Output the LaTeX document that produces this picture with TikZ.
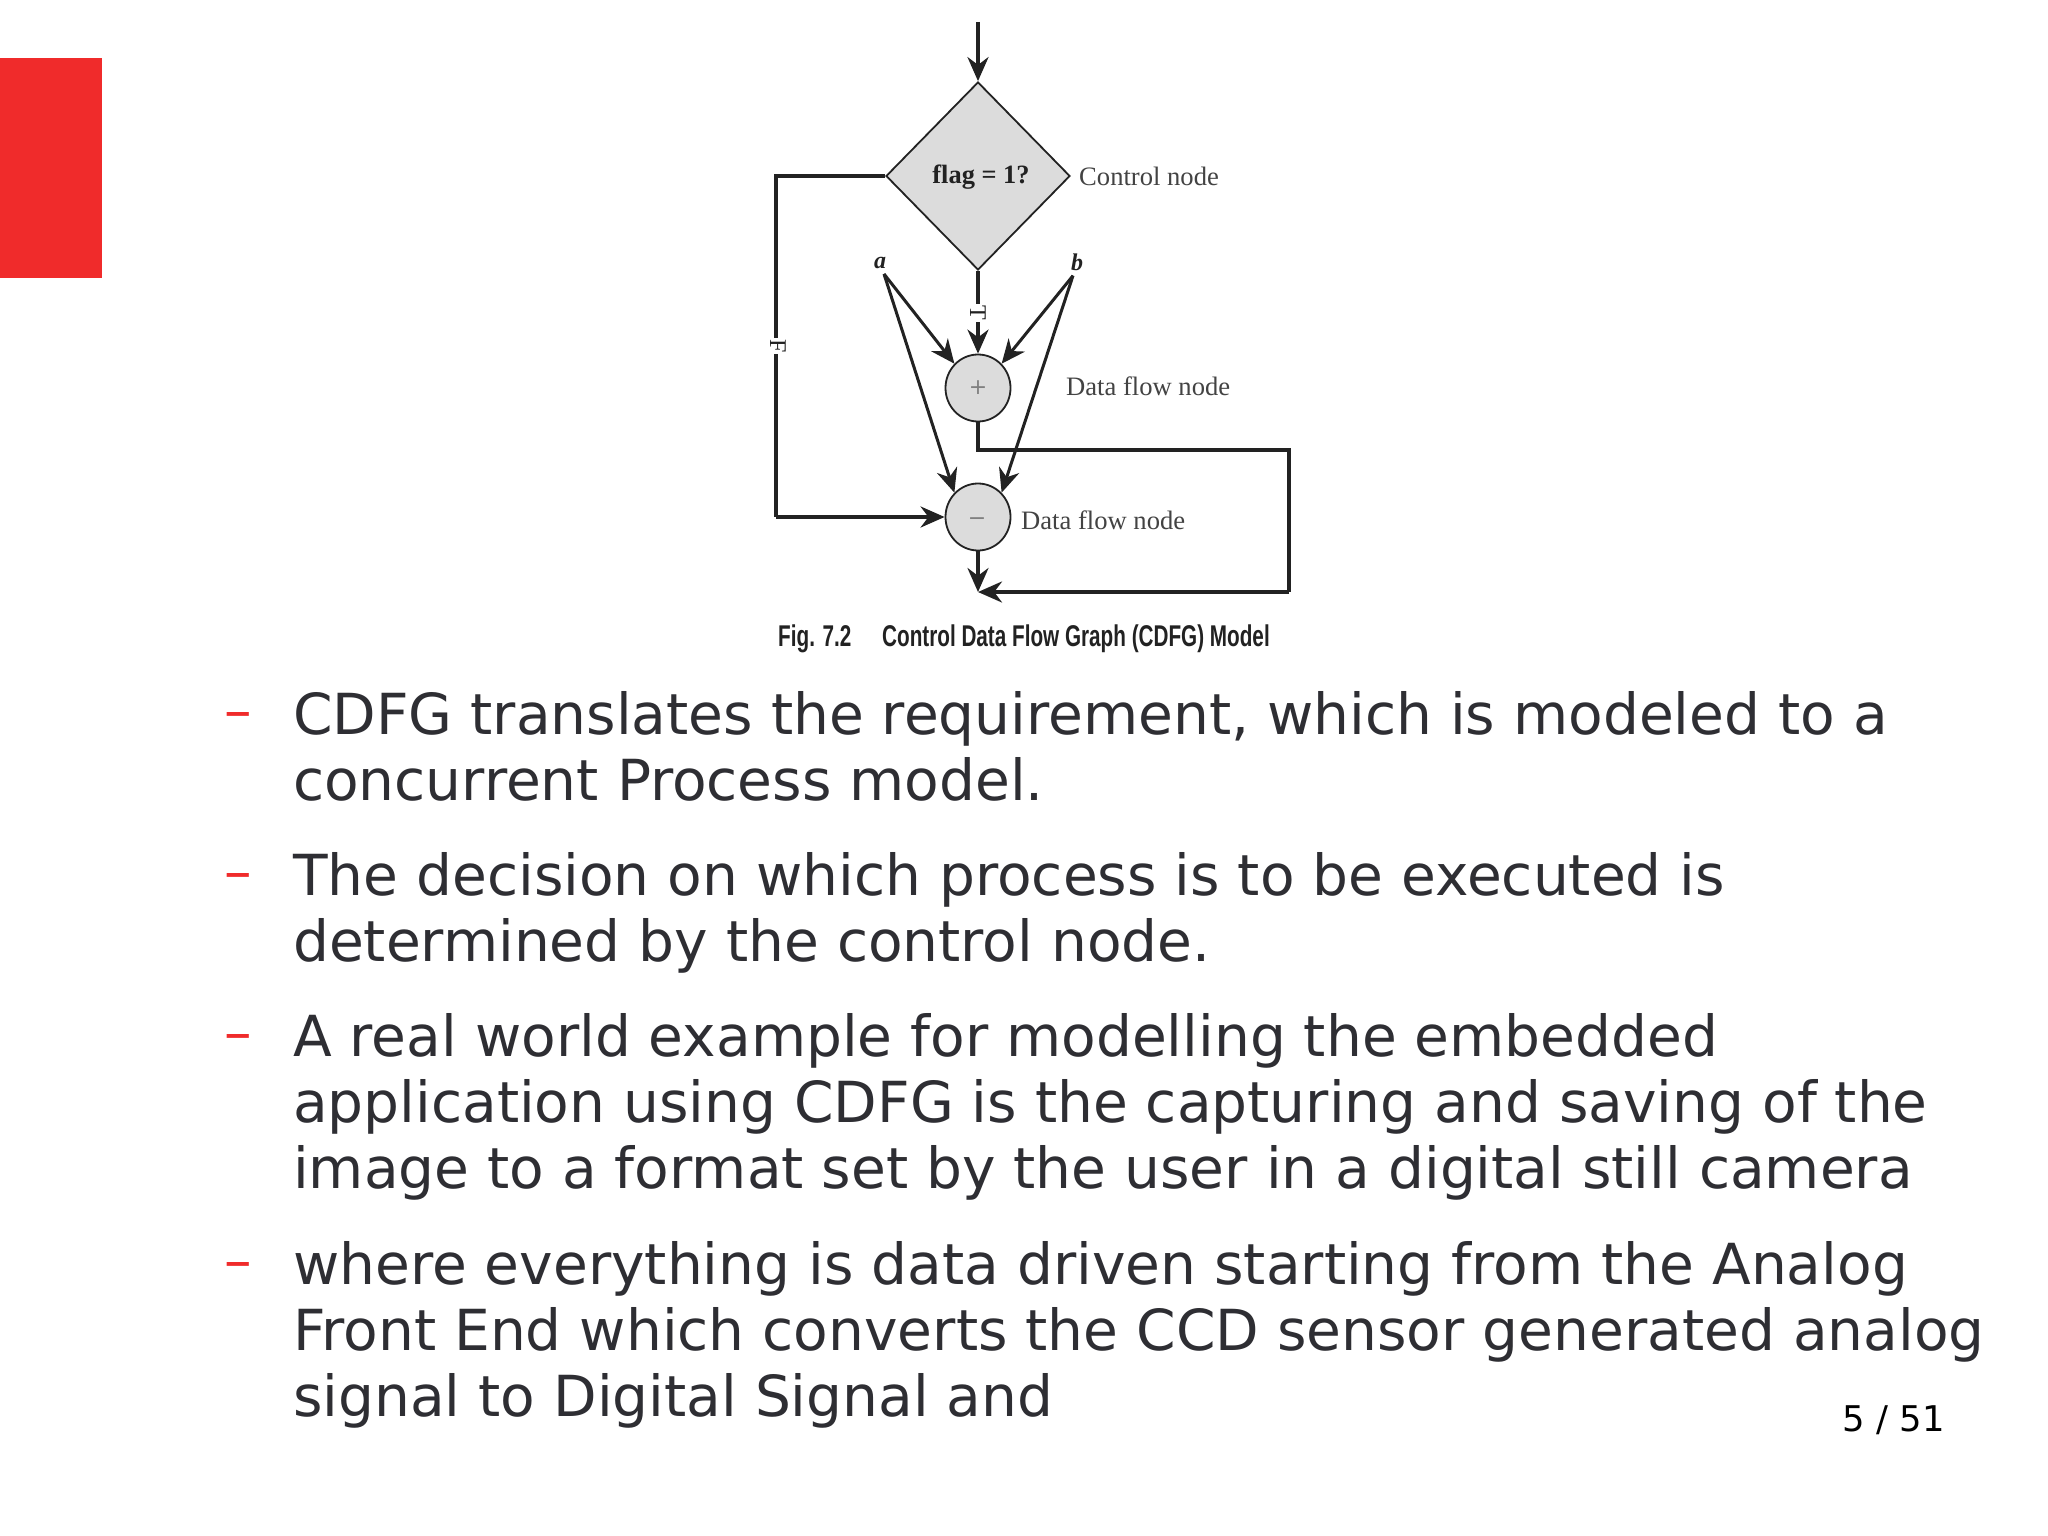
\documentclass[tikz,border=0pt]{standalone}
\usepackage{fontspec}
\usetikzlibrary{shapes.geometric,arrows.meta,positioning}
\setmainfont{DejaVu Sans}
\newfontfamily\figserif{Liberation Serif}
\newfontfamily\figcap[FakeStretch=0.69]{Liberation Sans Bold}
\definecolor{slidered}{HTML}{F02B2B}
\definecolor{bodyink}{HTML}{2E2E33}
\definecolor{nodegray}{HTML}{DCDCDC}
\definecolor{figink}{HTML}{222222}
\tikzset{
  bodyline/.style={anchor=base west,inner sep=0pt,text=bodyink,font=\fontsize{56.6}{66}\selectfont},
  dashmark/.style={anchor=base west,inner sep=0pt,text=slidered,font=\fontsize{55}{66}\selectfont},
  flow/.style={draw=figink,line width=3.4pt,-{Stealth[length=24pt,width=21pt]}},
  flowthin/.style={draw=figink,line width=3pt,-{Stealth[length=24pt,width=21pt]}},
  plainflow/.style={draw=figink,line width=3.4pt},
  ctrl/.style={diamond,draw=figink,fill=nodegray,line width=1.8pt,minimum width=184pt,minimum height=188pt,inner sep=0pt,aspect=0.98},
  dataop/.style={ellipse,draw=figink,fill=nodegray,line width=1.8pt,minimum width=65pt,minimum height=67pt,inner sep=0pt,text=gray,font=\fontsize{22}{22}\selectfont},
  figlabel/.style={inner sep=0pt,text=figink!85,font=\figserif\fontsize{26.6}{26.6}\selectfont},
  varlabel/.style={inner sep=0pt,text=figink,font=\figserif\itshape\bfseries\fontsize{24}{24}\selectfont},
  branch/.style={fill=white,inner sep=1.5pt,text=figink,font=\figserif\fontsize{24}{24}\selectfont},
  captext/.style={inner sep=0pt,anchor=west,text=figink,font=\figcap\fontsize{30}{30}\selectfont},
}
\begin{document}
\begin{tikzpicture}[x=1pt,y=-1pt]
\useasboundingbox (0,0) rectangle (2048,1536);
\fill[white] (0,0) rectangle (2048,1536);
\fill[slidered] (0,58) rectangle (102,278);
% figure
\node[ctrl] (flag) at (978,176) {};
\node[inner sep=0pt,font=\figserif\bfseries\fontsize{26.4}{26.4}\selectfont,text=figink] (flagtext) at (981,177) {flag = 1?};
\node[dataop] (plus) at (978,388) {+};
\node[dataop] (minus) at (978,517) {};
\node[inner sep=0pt,text=gray,font=\fontsize{22}{22}\selectfont] (minustext) at (977,522) {−};
\coordinate (entry) at (978,22);
\coordinate (merge) at (978,592);
\coordinate (fcorner) at (776,176);
\coordinate (fback) at (776,517);
\coordinate (pdown) at (978,450);
\coordinate (pright) at (1289,450);
\coordinate (pbottom) at (1289,592);
\node[figlabel,anchor=west] (ctrllabel) at (1079,176) {Control node};
\node[figlabel,anchor=west] (dflabela) at (1066,386) {Data flow node};
\node[figlabel,anchor=west] (dflabelb) at (1021,520) {Data flow node};
\node[varlabel] (a) at (880,263) {a};
\node[varlabel] (b) at (1077,262) {b};
\draw[flow] (entry) -- (flag.north);
\draw[flow] (flag.south) -- (plus.north);
\draw[plainflow] (flag.west) -- (fcorner) -- (fback);
\draw[flow] (fback) -- (minus.west);
\draw[plainflow] (plus.south) -- (pdown) -- (pright) -- (pbottom);
\draw[flow] (pbottom) -- (merge);
\draw[flow] (minus.south) -- (merge);
\draw[flowthin] ([shift={(4,5)}]a.south) -- (plus.north west);
\draw[flowthin] ([shift={(4,5)}]a.south) -- (minus.north west);
\draw[flowthin] ([shift={(-4,5)}]b.south) -- (plus.north east);
\draw[flowthin] ([shift={(-4,5)}]b.south) -- (minus.north east);
\node[branch,rotate=-90] (tlabel) at (978,313) {T};
\node[branch,rotate=-90] (flabel) at (778,346) {F};
\node[captext] (figno) at (778,639) {Fig. 7.2};
\node[captext] (figtitle) at (882,639) {Control Data Flow Graph (CDFG) Model};
% body text
\node[dashmark] (d1) at (224,729) {–};
\node[bodyline] (l1) at (293,734) {CDFG translates the requirement, which is modeled to a};
\node[bodyline] (l2) at (293,800) {concurrent Process model.};
\node[dashmark] (d2) at (224,890) {–};
\node[bodyline] (l3) at (293,895) {The decision on which process is to be executed is};
\node[bodyline] (l4) at (293,961) {determined by the control node.};
\node[dashmark] (d3) at (224,1051) {–};
\node[bodyline] (l5) at (293,1056) {A real world example for modelling the embedded};
\node[bodyline] (l6) at (293,1122) {application using CDFG is the capturing and saving of the};
\node[bodyline] (l7) at (293,1188) {image to a format set by the user in a digital still camera};
\node[dashmark] (d4) at (224,1279) {–};
\node[bodyline] (l8) at (293,1284) {where everything is data driven starting from the Analog};
\node[bodyline] (l9) at (293,1350) {Front End which converts the CCD sensor generated analog};
\node[bodyline] (l10) at (293,1416) {signal to Digital Signal and};
\node[anchor=base east,inner sep=0pt,text=black,font=\fontsize{35.4}{35.4}\selectfont] (page) at (1945,1431) {5 / 51};
\end{tikzpicture}
\end{document}
